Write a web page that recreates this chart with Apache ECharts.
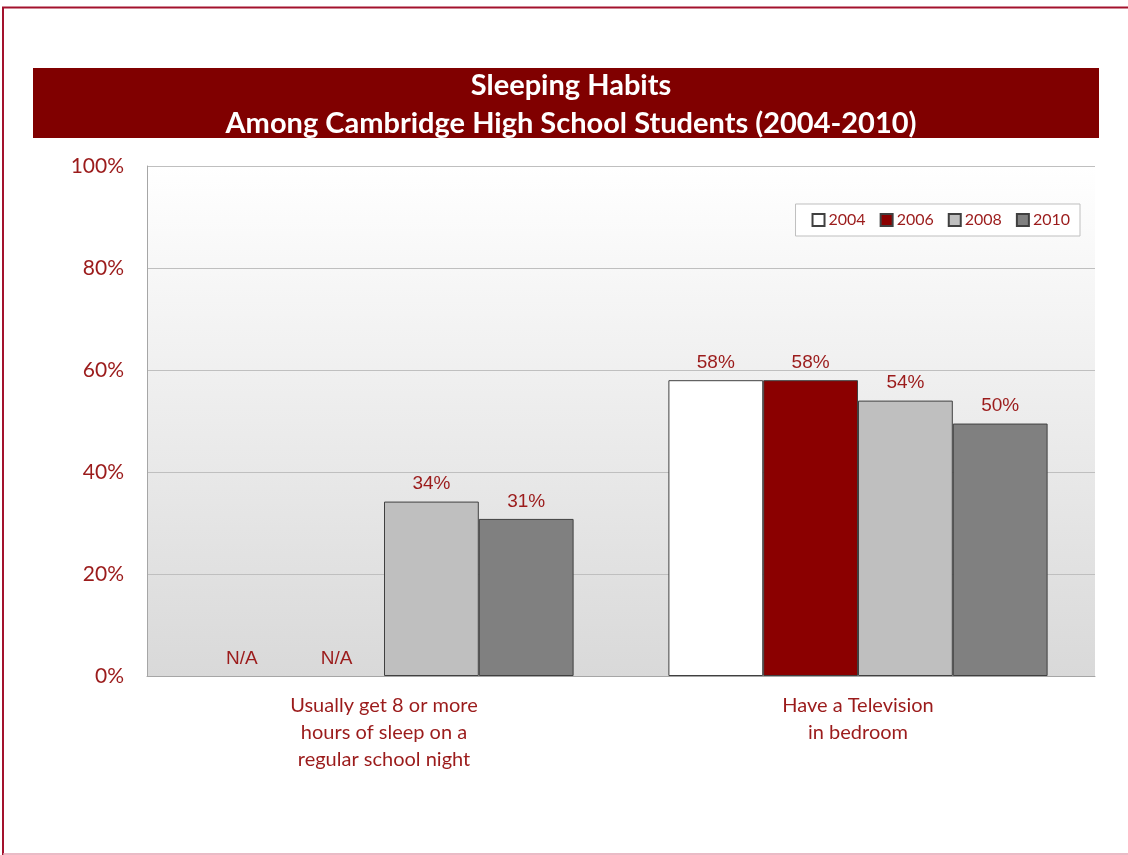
<!DOCTYPE html>
<html><head><meta charset="utf-8">
<script src="https://cdn.jsdelivr.net/npm/echarts@6/dist/echarts.min.js"></script>
<style>html,body{margin:0;padding:0;background:#fff}#c{width:1128px;height:855px}</style>
</head><body><div id="c"></div>
<script>
const titleLines = ['Sleeping Habits', 'Among Cambridge High School Students (2004-2010)'];
const categories = ['Usually get 8 or more\nhours of sleep on a\nregular school night', 'Have a Television\nin bedroom'];
const years = ['2004', '2006', '2008', '2010'];
const values2004 = [null, 58];
const values2006 = [null, 58];
const values2008 = [34.2, 54];
const values2010 = [30.8, 49.5];
const yTicks = [0, 20, 40, 60, 80, 100];

const seriesValues = [values2004, values2006, values2008, values2010];
const colors = ['#ffffff', '#8b0000', '#bfbfbf', '#808080'];
const red = '#9b1b1b';

const chart = echarts.init(document.getElementById('c'));
chart.setOption({
  animation: false,
  backgroundColor: '#ffffff',
  title: {
    text: titleLines.join('\n'),
    left: 566, top: 62, textAlign: 'center',
    textStyle: { color: '#ffffff', fontFamily: 'Lato', fontWeight: 'bold', fontSize: 29, lineHeight: 38 }
  },
  graphic: [
    { type: 'rect', z: -1, shape: { x: 33, y: 68, width: 1066, height: 70 }, style: { fill: '#800000' } },
    { type: 'line', shape: { x1: 2, y1: 7.5, x2: 1128, y2: 7.5 }, style: { stroke: '#a3122d', lineWidth: 2 } },
    { type: 'line', shape: { x1: 3, y1: 7, x2: 3, y2: 855 }, style: { stroke: '#a3122d', lineWidth: 2 } },
    { type: 'line', shape: { x1: 3, y1: 854, x2: 1128, y2: 854 }, style: { stroke: '#e3a5b3', lineWidth: 1.5 } }
  ],
  legend: {
    data: years,
    right: 48, top: 204,
    orient: 'horizontal',
    backgroundColor: '#ffffff',
    borderColor: '#bfbfbf', borderWidth: 1,
    padding: [8, 10, 8, 16],
    itemWidth: 12, itemHeight: 12, itemGap: 14,
    icon: 'rect',
    textStyle: { color: red, fontFamily: 'Lato', fontSize: 16, padding: [0, 0, 0, -1] }
  },
  grid: {
    left: 147, right: 33, top: 166, bottom: 179,
    show: true, borderWidth: 0,
    backgroundColor: new echarts.graphic.LinearGradient(0, 0, 0, 1, [
      { offset: 0, color: '#ffffff' }, { offset: 1, color: '#d9d9d9' }
    ])
  },
  xAxis: {
    type: 'category', data: categories,
    axisLine: { show: true, lineStyle: { color: '#a6a6a6' } },
    axisTick: { show: false },
    axisLabel: { color: red, fontFamily: 'Lato', fontSize: 20, lineHeight: 27, margin: 16 }
  },
  yAxis: {
    type: 'value', min: 0, max: 100, interval: 20,
    axisLine: { show: true, lineStyle: { color: '#a6a6a6' } },
    axisTick: { show: false },
    splitLine: { lineStyle: { color: '#bfbfbf' } },
    axisLabel: { color: red, fontFamily: 'Lato', fontSize: 21, margin: 23, formatter: v => v + '%' }
  },
  series: years.map((y, i) => ({
    name: y, type: 'bar',
    barGap: '0%', barCategoryGap: '20%',
    itemStyle: { color: colors[i], borderColor: '#404040', borderWidth: 1 },
    label: {
      show: true, position: 'top', distance: 8,
      color: red, fontFamily: 'Liberation Sans', fontSize: 19,
      formatter: p => (p.value === 0 && seriesValues[i][p.dataIndex] == null) ? 'N/A' : Math.round(p.value) + '%'
    },
    data: seriesValues[i].map(v => v == null ? { value: 0, itemStyle: { borderWidth: 0 }, label: { distance: 8 } } : v)
  }))
});
</script></body></html>
